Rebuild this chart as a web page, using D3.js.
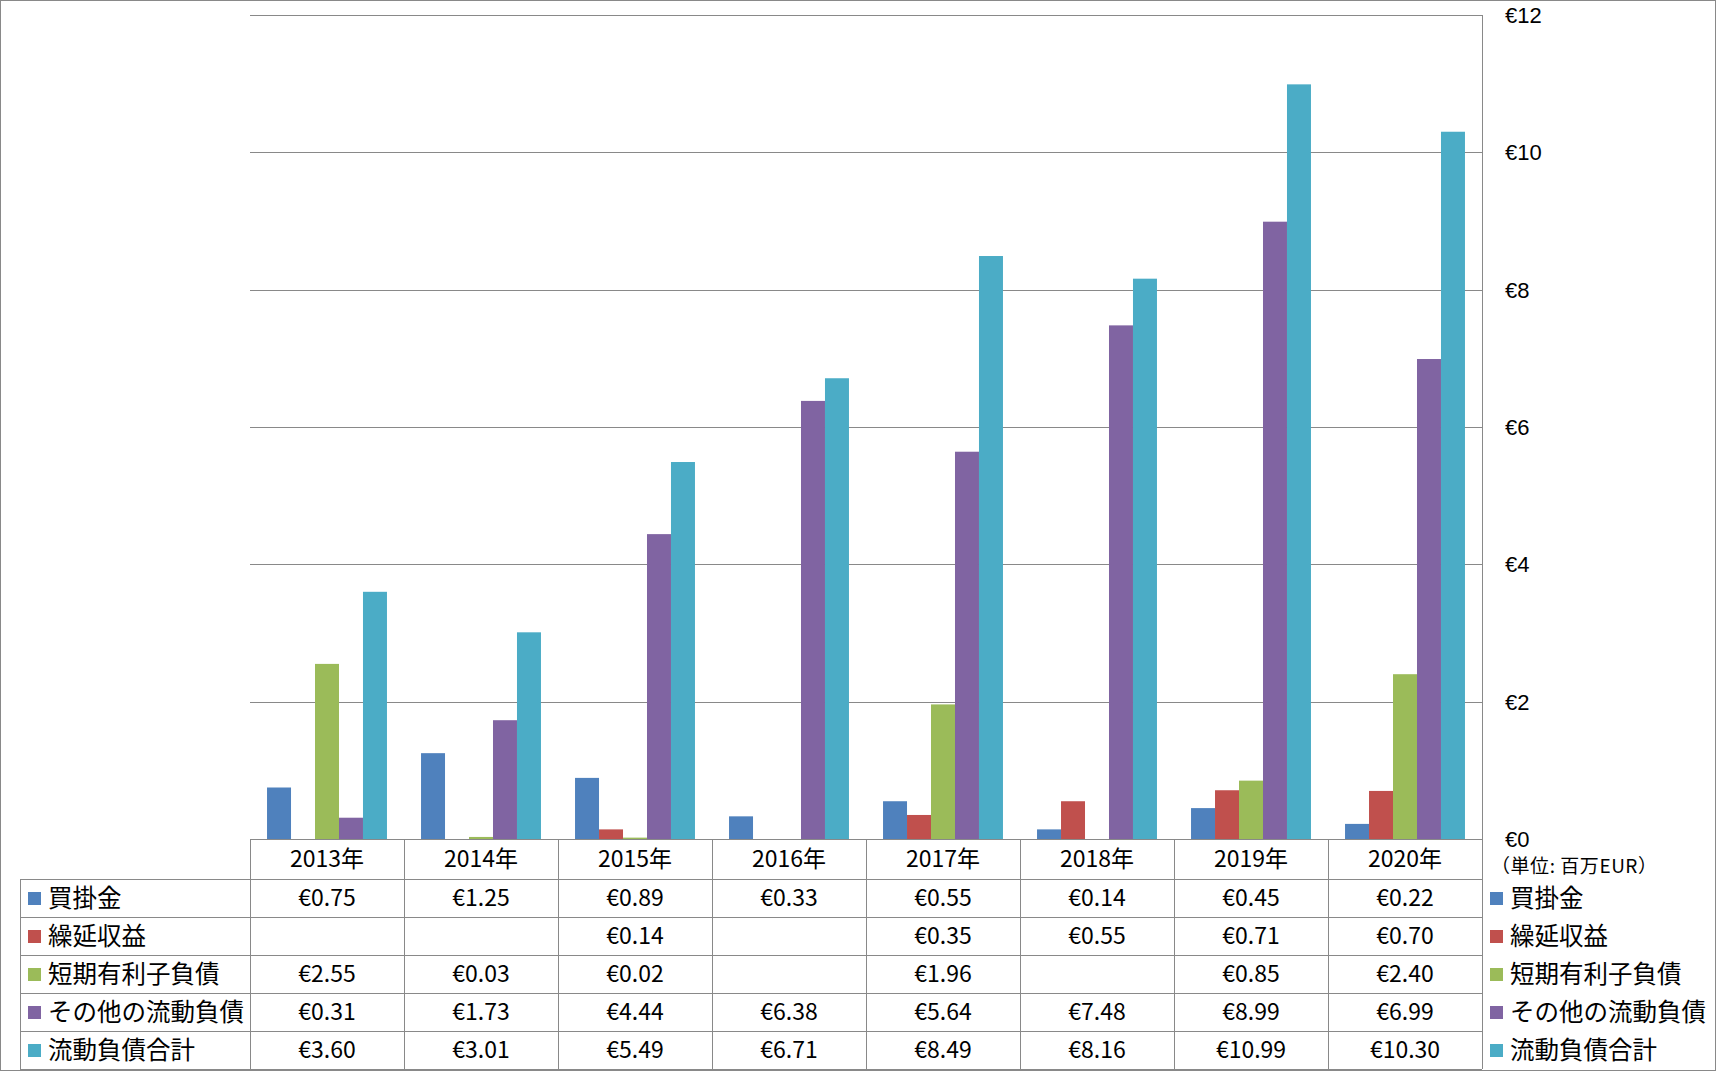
<!DOCTYPE html>
<html>
<head>
<meta charset="utf-8">
<script src="https://cdn.jsdelivr.net/npm/d3@7"></script>
<style>
  body { margin: 0; background: #fff; }
  svg text { font-family: "Noto Sans CJK JP", "Noto Sans", sans-serif; fill: #000; }
</style>
</head>
<body>
<script>
const width = 1716;
const height = 1071;

// data
const years = ["2013年", "2014年", "2015年", "2016年", "2017年", "2018年", "2019年", "2020年"];
const seriesNames = ["買掛金", "繰延収益", "短期有利子負債", "その他の流動負債", "流動負債合計"];
const seriesColors = ["#4F81BD", "#C0504D", "#9BBB59", "#8064A2", "#4BACC6"];
const payables = [0.75, 1.25, 0.89, 0.33, 0.55, 0.14, 0.45, 0.22];
const deferredRevenue = [null, null, 0.14, null, 0.35, 0.55, 0.71, 0.70];
const shortTermDebt = [2.55, 0.03, 0.02, null, 1.96, null, 0.85, 2.40];
const otherCurrent = [0.31, 1.73, 4.44, 6.38, 5.64, 7.48, 8.99, 6.99];
const totalCurrent = [3.60, 3.01, 5.49, 6.71, 8.49, 8.16, 10.99, 10.30];
const yTicks = [0, 2, 4, 6, 8, 10, 12];
const unitLabel = "（単位: 百万EUR）";

const seriesValues = [payables, deferredRevenue, shortTermDebt, otherCurrent, totalCurrent];

const plotLeft = 250, plotRight = 1482, plotTop = 15, plotBottom = 839;
const rowH = 38, headerH = 40, tableLeft = 20;
const gridColor = "#898989";

const svg = d3.select("body").append("svg")
  .attr("width", width)
  .attr("height", height);

// outer border
svg.append("rect")
  .attr("x", 0.5).attr("y", 0.5)
  .attr("width", width - 1).attr("height", height - 1)
  .attr("fill", "#fff")
  .attr("stroke", gridColor);

const x0 = d3.scaleBand().domain(years).range([plotLeft, plotRight]);
const x1 = d3.scaleBand().domain(seriesNames).range([0, x0.bandwidth()])
  .paddingInner(0).paddingOuter(0.71);
const y = d3.scaleLinear().domain([0, 12]).range([plotBottom, plotTop]);

// gridlines
svg.append("g").selectAll("line")
  .data(yTicks)
  .join("line")
    .attr("x1", plotLeft).attr("x2", plotRight)
    .attr("y1", d => Math.round(y(d)) + 0.5)
    .attr("y2", d => Math.round(y(d)) + 0.5)
    .attr("stroke", gridColor);

// right axis line
svg.append("line")
  .attr("x1", plotRight + 0.5).attr("x2", plotRight + 0.5)
  .attr("y1", plotTop).attr("y2", plotBottom + headerH + rowH * 5)
  .attr("stroke", gridColor);

// y tick labels on the right
svg.append("g").selectAll("text")
  .data(yTicks)
  .join("text")
    .attr("x", 1505)
    .attr("y", d => y(d))
    .attr("dy", "0.36em")
    .style("font-family", "'Liberation Sans', sans-serif")
    .style("font-size", "22px")
    .text(d => "€" + d);

svg.append("text")
  .attr("x", 1491)
  .attr("y", 866)
  .attr("dy", "0.35em")
  .attr("textLength", 166)
  .attr("lengthAdjust", "spacing")
  .style("font-size", "19px")
  .text(unitLabel);

// bars
const groups = svg.append("g").selectAll("g")
  .data(years)
  .join("g")
    .attr("transform", d => "translate(" + x0(d) + ",0)");

groups.selectAll("rect")
  .data((d, i) => seriesNames.map((s, k) => ({ s: s, k: k, v: seriesValues[k][i] })))
  .join("rect")
    .filter(d => d.v != null)
    .attr("x", d => x1(d.s))
    .attr("width", x1.bandwidth())
    .attr("y", d => y(d.v))
    .attr("height", d => y(0) - y(d.v))
    .attr("fill", d => seriesColors[d.k]);

// data table
const table = svg.append("g");
const tableBottom = plotBottom + headerH + rowH * 5;

// horizontal lines
const hLines = [plotBottom + headerH];
for (let r = 1; r <= 5; r++) hLines.push(plotBottom + headerH + rowH * r);
table.selectAll("line.h")
  .data(hLines)
  .join("line")
    .attr("class", "h")
    .attr("x1", tableLeft).attr("x2", plotRight)
    .attr("y1", d => d + 0.5).attr("y2", d => d + 0.5)
    .attr("stroke", gridColor);

// vertical lines
const vLines = years.map(d => x0(d));
table.selectAll("line.v")
  .data(vLines)
  .join("line")
    .attr("class", "v")
    .attr("x1", d => Math.round(d) + 0.5).attr("x2", d => Math.round(d) + 0.5)
    .attr("y1", plotBottom).attr("y2", tableBottom)
    .attr("stroke", gridColor);

table.append("line")
  .attr("x1", tableLeft + 0.5).attr("x2", tableLeft + 0.5)
  .attr("y1", plotBottom + headerH).attr("y2", tableBottom)
  .attr("stroke", gridColor);

// header years
table.selectAll("text.year")
  .data(years)
  .join("text")
    .attr("class", "year")
    .attr("x", d => x0(d) + x0.bandwidth() / 2)
    .attr("y", plotBottom + headerH / 2)
    .attr("dy", "0.35em")
    .attr("text-anchor", "middle")
    .style("font-size", "23px")
    .text(d => d);

const rowCenter = k => plotBottom + headerH + rowH * k + rowH / 2;

// row labels left and legend right
seriesNames.forEach((s, k) => {
  [tableLeft + 8, 1490].forEach(lx => {
    table.append("rect")
      .attr("x", lx)
      .attr("y", rowCenter(k) - 6)
      .attr("width", 13).attr("height", 13)
      .attr("fill", seriesColors[k]);
    table.append("text")
      .attr("x", lx + 20)
      .attr("y", rowCenter(k))
      .attr("dy", "0.35em")
      .style("font-size", "24.5px")
      .text(s);
  });

  table.append("g").selectAll("text")
    .data(seriesValues[k].map((v, i) => ({ v: v, yr: years[i] })).filter(d => d.v != null))
    .join("text")
      .attr("x", d => x0(d.yr) + x0.bandwidth() / 2)
      .attr("y", rowCenter(k))
      .attr("dy", "0.35em")
      .attr("text-anchor", "middle")
      .style("font-size", "23px")
      .text(d => "€" + d.v.toFixed(2));
});
</script>
</body>
</html>
